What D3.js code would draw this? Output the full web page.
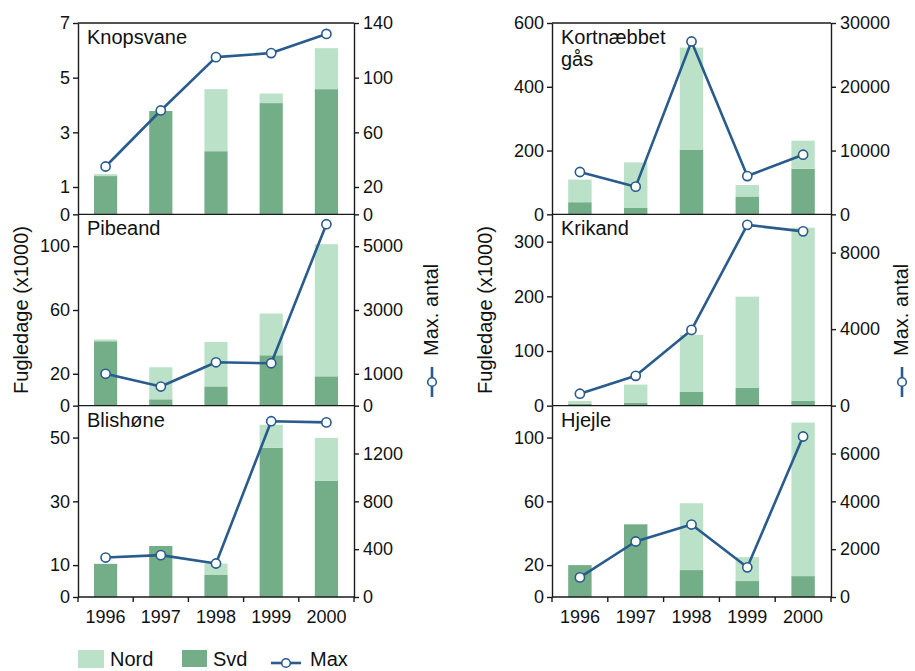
<!DOCTYPE html>
<html>
<head>
<meta charset="utf-8">
<script src="https://cdn.jsdelivr.net/npm/d3@7"></script>
<style>
  html, body { margin: 0; padding: 0; background: #fff; }
  svg text { font-family: "Liberation Sans", Arial, Helvetica, sans-serif; fill: #111; }
</style>
</head>
<body>
<script>
// Years on the x axis
const years = ["1996", "1997", "1998", "1999", "2000"];

// Fugledage (x1000) per area, and maximum count, per species
const knopsvaneSvd  = [1.40, 3.78, 2.31, 4.07, 4.58];
const knopsvaneNord = [0.07, 0.00, 2.27, 0.35, 1.50];
const knopsvaneMax  = [35, 76, 115, 118, 132];

const pibeandSvd  = [40.4, 4.0, 12.1, 31.6, 18.4];
const pibeandNord = [1.1, 20.1, 27.9, 26.2, 82.9];
const pibeandMax  = [1000, 600, 1360, 1330, 5690];

const blishoneSvd  = [10.4, 16.0, 6.9, 46.8, 36.5];
const blishoneNord = [0, 0, 3.6, 7.2, 13.4];
const blishoneMax  = [330, 350, 280, 1470, 1460];

const kortnaebbetSvd  = [38, 21, 203, 56, 143];
const kortnaebbetNord = [71, 142, 320, 36, 88];
const kortnaebbetMax  = [6640, 4340, 27100, 6000, 9350];

const krikandSvd  = [3.7, 5.0, 25.0, 32.4, 8.6];
const krikandNord = [5.0, 33.5, 104.5, 167.0, 317.0];
const krikandMax  = [625, 1560, 3960, 9450, 9110];

const hjejleSvd  = [20.0, 45.6, 16.9, 10.0, 13.1];
const hjejleNord = [0, 0, 41.9, 15.0, 96.3];
const hjejleMax  = [820, 2320, 3030, 1240, 6710];

// Axis extents and tick labels
const knopsvaneLeftMax = 7,    knopsvaneLeftTicks = [0, 1, 3, 5, 7];
const knopsvaneRightMax = 140, knopsvaneRightTicks = [0, 20, 60, 100, 140];
const pibeandLeftMax = 120,    pibeandLeftTicks = [0, 20, 60, 100];
const pibeandRightMax = 6000,  pibeandRightTicks = [0, 1000, 3000, 5000];
const blishoneLeftMax = 60,    blishoneLeftTicks = [0, 10, 30, 50];
const blishoneRightMax = 1600, blishoneRightTicks = [0, 400, 800, 1200];
const kortnaebbetLeftMax = 600,    kortnaebbetLeftTicks = [0, 200, 400, 600];
const kortnaebbetRightMax = 30000, kortnaebbetRightTicks = [0, 10000, 20000, 30000];
const krikandLeftMax = 350,    krikandLeftTicks = [0, 100, 200, 300];
const krikandRightMax = 10000, krikandRightTicks = [0, 4000, 8000];
const hjejleLeftMax = 120,     hjejleLeftTicks = [0, 20, 60, 100];
const hjejleRightMax = 8000,   hjejleRightTicks = [0, 2000, 4000, 6000];

const seriesNames = ["Nord", "Svd", "Max"];
const yLabel = "Fugledage (x1000)";
const y2Label = "Max. antal";

// Panel definitions built from the arrays above
const columns = [
  [
    { title: ["Knopsvane"], svd: knopsvaneSvd, nord: knopsvaneNord, max: knopsvaneMax,
      lMax: knopsvaneLeftMax, lTicks: knopsvaneLeftTicks, rMax: knopsvaneRightMax, rTicks: knopsvaneRightTicks },
    { title: ["Pibeand"], svd: pibeandSvd, nord: pibeandNord, max: pibeandMax,
      lMax: pibeandLeftMax, lTicks: pibeandLeftTicks, rMax: pibeandRightMax, rTicks: pibeandRightTicks },
    { title: ["Blishøne"], svd: blishoneSvd, nord: blishoneNord, max: blishoneMax,
      lMax: blishoneLeftMax, lTicks: blishoneLeftTicks, rMax: blishoneRightMax, rTicks: blishoneRightTicks }
  ],
  [
    { title: ["Kortnæbbet", "gås"], svd: kortnaebbetSvd, nord: kortnaebbetNord, max: kortnaebbetMax,
      lMax: kortnaebbetLeftMax, lTicks: kortnaebbetLeftTicks, rMax: kortnaebbetRightMax, rTicks: kortnaebbetRightTicks },
    { title: ["Krikand"], svd: krikandSvd, nord: krikandNord, max: krikandMax,
      lMax: krikandLeftMax, lTicks: krikandLeftTicks, rMax: krikandRightMax, rTicks: krikandRightTicks },
    { title: ["Hjejle"], svd: hjejleSvd, nord: hjejleNord, max: hjejleMax,
      lMax: hjejleLeftMax, lTicks: hjejleLeftTicks, rMax: hjejleRightMax, rTicks: hjejleRightTicks }
  ]
];

const colNord = "#bbe2c9";
const colSvd = "#74ae89";
const colLine = "#295b8d";
const colAxis = "#1a1a1a";

const W = 915, H = 671;
const plotTop = 23, plotBottom = 597;
const panelH = (plotBottom - plotTop) / 3;
const colX = [ { x0: 78, x1: 354, labelX: 28, legendX: 438 },
               { x0: 552, x1: 831, labelX: 492, legendX: 908 } ];
const intFmt = d3.format("d");

const svg = d3.select("body").append("svg")
  .attr("width", W).attr("height", H);

function styleAxis(g) {
  g.selectAll("path.domain").attr("stroke", colAxis).attr("stroke-width", 1.4);
  g.selectAll(".tick line").attr("stroke", colAxis).attr("stroke-width", 1.4);
  g.selectAll(".tick text").attr("font-size", 18).attr("fill", "#111")
    .attr("font-family", "'Liberation Sans', Arial, sans-serif");
}

columns.forEach((panels, ci) => {
  const { x0, x1, labelX, legendX } = colX[ci];
  const x = d3.scaleBand().domain(years).range([x0, x1]).padding(0);
  const bw = x.bandwidth() * 0.42;

  panels.forEach((p, pi) => {
    const y0 = plotTop + pi * panelH;
    const y1 = y0 + panelH;
    const yL = d3.scaleLinear().domain([0, p.lMax]).range([y1, y0]);
    const yR = d3.scaleLinear().domain([0, p.rMax]).range([y1, y0]);
    const g = svg.append("g");

    const rows = years.map((yr, i) => ({ yr, svd: p.svd[i], nord: p.nord[i], max: p.max[i] }));
    const stack = d3.stack().keys(["svd", "nord"])(rows);

    // stacked bars: Svd below, Nord on top
    g.selectAll("g.layer").data(stack).join("g")
      .attr("fill", d => d.key === "svd" ? colSvd : colNord)
      .selectAll("rect").data(d => d).join("rect")
      .attr("x", d => x(d.data.yr) + (x.bandwidth() - bw) / 2)
      .attr("width", bw)
      .attr("y", d => yL(d[1]))
      .attr("height", d => Math.max(0, yL(d[0]) - yL(d[1])));

    // panel frame lines
    g.append("line").attr("x1", x0).attr("x2", x1).attr("y1", y1).attr("y2", y1)
      .attr("stroke", colAxis).attr("stroke-width", 1.4);
    if (pi === 0) {
      g.append("line").attr("x1", x0).attr("x2", x1).attr("y1", y0).attr("y2", y0)
        .attr("stroke", colAxis).attr("stroke-width", 1.4);
    }

    g.append("g").attr("transform", `translate(${x0},0)`)
      .call(d3.axisLeft(yL).tickValues(p.lTicks).tickFormat(intFmt)
        .tickSize(5).tickPadding(3).tickSizeOuter(0))
      .call(styleAxis);
    g.append("g").attr("transform", `translate(${x1},0)`)
      .call(d3.axisRight(yR).tickValues(p.rTicks).tickFormat(intFmt)
        .tickSize(5).tickPadding(4).tickSizeOuter(0))
      .call(styleAxis);

    // maximum count line with open markers
    const line = d3.line().x(d => x(d.yr) + x.bandwidth() / 2).y(d => yR(d.max));
    g.append("path").datum(rows).attr("d", line)
      .attr("fill", "none").attr("stroke", colLine).attr("stroke-width", 2.6)
      .attr("stroke-linejoin", "round");
    g.selectAll("circle.pt").data(rows).join("circle").attr("class", "pt")
      .attr("cx", d => x(d.yr) + x.bandwidth() / 2).attr("cy", d => yR(d.max))
      .attr("r", 4.6).attr("fill", "#fff").attr("stroke", colLine).attr("stroke-width", 1.6);

    // species name
    const t = g.append("text").attr("x", x0 + 9).attr("y", y0 + 21).attr("font-size", 20);
    p.title.forEach((s, k) => {
      t.append("tspan").attr("x", x0 + 9).attr("dy", k === 0 ? 0 : 22).text(s);
    });
  });

  // x axis with tick marks on band edges and year labels centered
  const xa = svg.append("g").attr("transform", `translate(0,${plotBottom})`);
  const edges = years.map(d => x(d)).concat([x.range()[1]]);
  xa.selectAll("line").data(edges).join("line")
    .attr("x1", d => d).attr("x2", d => d).attr("y1", 0).attr("y2", 5)
    .attr("stroke", colAxis).attr("stroke-width", 1.4);
  xa.selectAll("text").data(years).join("text")
    .attr("x", d => x(d) + x.bandwidth() / 2).attr("y", 26)
    .attr("text-anchor", "middle").attr("font-size", 18).text(d => d);

  // left axis title
  svg.append("text")
    .attr("transform", `translate(${labelX},${(plotTop + plotBottom) / 2}) rotate(-90)`)
    .attr("text-anchor", "middle").attr("font-size", 20).text(yLabel);

  // right axis title with line marker key
  const lg = svg.append("g").attr("transform", `translate(${legendX},0) rotate(-90)`);
  lg.append("text").attr("x", -356).attr("y", 0).attr("font-size", 20).text(y2Label);
  lg.append("line").attr("x1", -397).attr("x2", -367).attr("y1", -6).attr("y2", -6)
    .attr("stroke", colLine).attr("stroke-width", 2.6);
  lg.append("circle").attr("cx", -382).attr("cy", -6).attr("r", 4.3)
    .attr("fill", "#fff").attr("stroke", colLine).attr("stroke-width", 1.6);
});

// bottom legend
const legY = 666;
const leg = svg.append("g");
leg.append("rect").attr("x", 78).attr("y", legY - 16).attr("width", 26).attr("height", 18).attr("fill", colNord);
leg.append("text").attr("x", 110).attr("y", legY).attr("font-size", 20).text(seriesNames[0]);
leg.append("rect").attr("x", 182).attr("y", legY - 16).attr("width", 25).attr("height", 17).attr("fill", colSvd);
leg.append("text").attr("x", 213).attr("y", legY).attr("font-size", 20).text(seriesNames[1]);
leg.append("line").attr("x1", 271).attr("x2", 301).attr("y1", legY - 3).attr("y2", legY - 3)
  .attr("stroke", colLine).attr("stroke-width", 2.6);
leg.append("circle").attr("cx", 286).attr("cy", legY - 3).attr("r", 4.3)
  .attr("fill", "#fff").attr("stroke", colLine).attr("stroke-width", 1.6);
leg.append("text").attr("x", 310).attr("y", legY).attr("font-size", 20).text(seriesNames[2]);
</script>
</body>
</html>
